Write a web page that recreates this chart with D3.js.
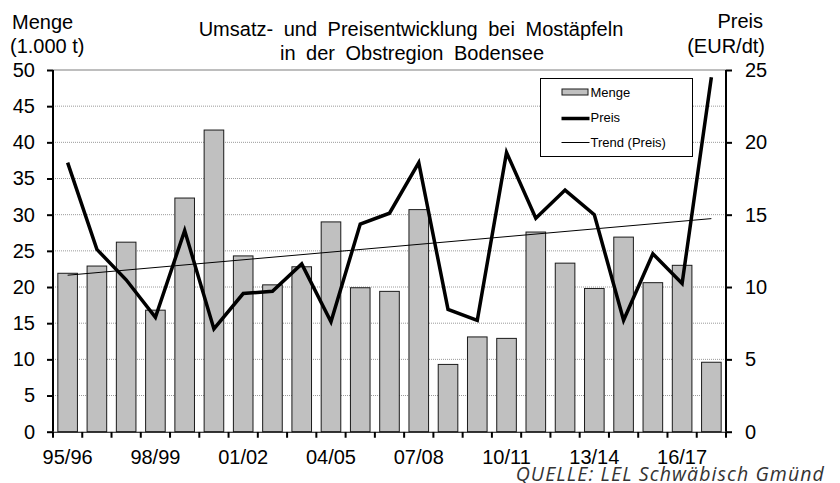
<!DOCTYPE html>
<html>
<head>
<meta charset="utf-8">
<script src="https://cdn.jsdelivr.net/npm/d3@7"></script>
<style>
  body { margin: 0; background: #fff; }
  svg { display: block; font-family: "Liberation Sans", Arial, sans-serif; }
  .grid line { stroke: #9a9a9a; stroke-dasharray: 1,1; }
  .axis path, .axis line { stroke: #000; stroke-width: 2; }
  .axis text { font-size: 20px; fill: #000; }
</style>
</head>
<body>
<div id="chart"></div>
<script>
// Seasons (Ernte-Jahre)
const seasons = ['95/96', '96/97', '97/98', '98/99', '99/00', '00/01', '01/02', '02/03',
  '03/04', '04/05', '05/06', '06/07', '07/08', '08/09', '09/10', '10/11', '11/12',
  '12/13', '13/14', '14/15', '15/16', '16/17', '17/18'];
// Menge (1.000 t)
const menge = [21.9, 22.9, 26.2, 16.8, 32.3, 41.7, 24.3, 20.3, 22.8, 29.0, 19.9, 19.4,
  30.7, 9.3, 13.1, 12.9, 27.6, 23.3, 19.8, 26.9, 20.6, 23.0, 9.6];
// Preis (EUR/dt)
const preis = [18.6, 12.6, 10.5, 7.9, 13.9, 7.1, 9.55, 9.7, 11.6, 7.6, 14.35, 15.1,
  18.6, 8.45, 7.7, 19.3, 14.75, 16.7, 15.0, 7.7, 12.3, 10.25, 24.5];
const xTickLabels = ['95/96', '98/99', '01/02', '04/05', '07/08', '10/11', '13/14', '16/17'];
const leftTicks = [0, 5, 10, 15, 20, 25, 30, 35, 40, 45, 50];
const rightTicks = [0, 5, 10, 15, 20, 25];

const width = 840;
const height = 483;
const margin = { top: 70, right: 114, bottom: 51.3, left: 53 };
const plotW = width - margin.left - margin.right;
const plotH = height - margin.top - margin.bottom;

const svg = d3.select('#chart').append('svg')
  .attr('width', width)
  .attr('height', height);

const x = d3.scaleBand()
  .domain(seasons)
  .range([margin.left, margin.left + plotW])
  .paddingInner(0.33)
  .paddingOuter(0.165);
const yLeft = d3.scaleLinear().domain([0, 50]).range([margin.top + plotH, margin.top]);
const yRight = d3.scaleLinear().domain([0, 25]).range([margin.top + plotH, margin.top]);
const xc = d => x(d) + x.bandwidth() / 2;

// Grid lines
svg.append('g')
  .attr('class', 'grid')
  .selectAll('line')
  .data(leftTicks.filter(d => d > 0 && d < 50))
  .join('line')
  .attr('x1', margin.left)
  .attr('x2', margin.left + plotW)
  .attr('y1', d => yLeft(d))
  .attr('y2', d => yLeft(d));
svg.append('line')
  .attr('x1', margin.left)
  .attr('x2', margin.left + plotW)
  .attr('y1', yLeft(50))
  .attr('y2', yLeft(50))
  .attr('stroke', '#a8a8a8')
  .attr('stroke-width', 1.5);

// Bars
svg.append('g')
  .selectAll('rect')
  .data(seasons)
  .join('rect')
  .attr('x', d => x(d))
  .attr('y', (d, i) => yLeft(menge[i]))
  .attr('width', x.bandwidth())
  .attr('height', (d, i) => yLeft(0) - yLeft(menge[i]))
  .attr('fill', '#c0c0c0')
  .attr('stroke', '#1a1a1a')
  .attr('stroke-width', 1);

// Trend line (linear regression on Preis)
const n = preis.length;
const mx = d3.mean(preis, (d, i) => i);
const my = d3.mean(preis);
const slope = d3.sum(preis, (d, i) => (i - mx) * (d - my)) / d3.sum(preis, (d, i) => (i - mx) * (i - mx));
const icpt = my - slope * mx;
svg.append('line')
  .attr('x1', xc(seasons[0]))
  .attr('y1', yRight(icpt))
  .attr('x2', xc(seasons[n - 1]))
  .attr('y2', yRight(icpt + slope * (n - 1)))
  .attr('stroke', '#000')
  .attr('stroke-width', 1);

// Price line
const line = d3.line()
  .x((d, i) => xc(seasons[i]))
  .y(d => yRight(d));
svg.append('path')
  .datum(preis)
  .attr('d', line)
  .attr('fill', 'none')
  .attr('stroke', '#000')
  .attr('stroke-width', 3.5)
  .attr('stroke-linejoin', 'miter');

// Axes
const clip = svg.append('clipPath').attr('id', 'xclip');
clip.append('rect').attr('x', 0).attr('y', 0).attr('width', width).attr('height', 462.5);

const xAxis = svg.append('g')
  .attr('class', 'axis')
  .attr('clip-path', 'url(#xclip)')
  .attr('transform', `translate(0,${margin.top + plotH})`);
xAxis.append('line')
  .attr('x1', margin.left - 1)
  .attr('x2', margin.left + plotW + 1);
xAxis.selectAll('line.tick')
  .data(d3.range(seasons.length + 1))
  .join('line')
  .attr('class', 'tick')
  .attr('x1', i => margin.left + i * x.step())
  .attr('x2', i => margin.left + i * x.step())
  .attr('y1', 0)
  .attr('y2', 6);
xAxis.selectAll('text')
  .data(xTickLabels)
  .join('text')
  .attr('x', d => xc(d))
  .attr('y', 32)
  .attr('text-anchor', 'middle')
  .text(d => d);

svg.append('g')
  .attr('class', 'axis')
  .attr('transform', `translate(${margin.left},0)`)
  .call(d3.axisLeft(yLeft).tickValues(leftTicks).tickSize(6).tickPadding(12))
  .call(g => g.select('.domain').attr('d', `M0,${margin.top}V${margin.top + plotH}`))
  .call(g => g.selectAll('text').attr('font-family', null).attr('font-size', null));

svg.append('g')
  .attr('class', 'axis')
  .attr('transform', `translate(${margin.left + plotW},0)`)
  .call(d3.axisRight(yRight).tickValues(rightTicks).tickSize(6).tickPadding(13))
  .call(g => g.select('.domain').attr('d', `M0,${margin.top}V${margin.top + plotH}`))
  .call(g => g.selectAll('text').attr('font-family', null).attr('font-size', null));

// Titles
const title = svg.append('g')
  .attr('font-size', 20)
  .attr('text-anchor', 'middle')
  .attr('word-spacing', 5);
title.append('text').attr('x', 411).attr('y', 36).text('Umsatz- und Preisentwicklung bei Mostäpfeln');
title.append('text').attr('x', 412).attr('y', 60).text('in der Obstregion Bodensee');

svg.append('text').attr('x', 12).attr('y', 29).attr('font-size', 20).text('Menge');
svg.append('text').attr('x', 10).attr('y', 53).attr('font-size', 20).text('(1.000 t)');
svg.append('text').attr('x', 763).attr('y', 28).attr('font-size', 20).attr('text-anchor', 'end').text('Preis');
svg.append('text').attr('x', 765).attr('y', 53).attr('font-size', 20).attr('text-anchor', 'end').text('(EUR/dt)');

// Legend
const legend = svg.append('g').attr('transform', 'translate(540.5,78.5)');
legend.append('rect')
  .attr('width', 152)
  .attr('height', 78)
  .attr('fill', '#fff')
  .attr('stroke', '#000')
  .attr('stroke-width', 1);
legend.append('rect')
  .attr('x', 21.5).attr('y', 10.5)
  .attr('width', 26).attr('height', 6)
  .attr('fill', '#c0c0c0')
  .attr('stroke', '#1a1a1a');
legend.append('line')
  .attr('x1', 21).attr('x2', 49)
  .attr('y1', 40).attr('y2', 40)
  .attr('stroke', '#000').attr('stroke-width', 3.5);
legend.append('line')
  .attr('x1', 21).attr('x2', 49)
  .attr('y1', 64).attr('y2', 64)
  .attr('stroke', '#000').attr('stroke-width', 1);
legend.selectAll('text')
  .data(['Menge', 'Preis', 'Trend (Preis)'])
  .join('text')
  .attr('x', 50)
  .attr('y', (d, i) => 18 + i * 25)
  .attr('font-size', 13)
  .text(d => d);

// Source
svg.append('text')
  .attr('x', 825)
  .attr('y', 481)
  .attr('text-anchor', 'end')
  .attr('font-family', '"Open Sans", Lato, sans-serif')
  .attr('font-style', 'italic')
  .attr('font-size', 19.5)
  .attr('letter-spacing', 1.1)
  .attr('fill', '#333')
  .text('QUELLE: LEL Schwäbisch Gmünd');
</script>
</body>
</html>
